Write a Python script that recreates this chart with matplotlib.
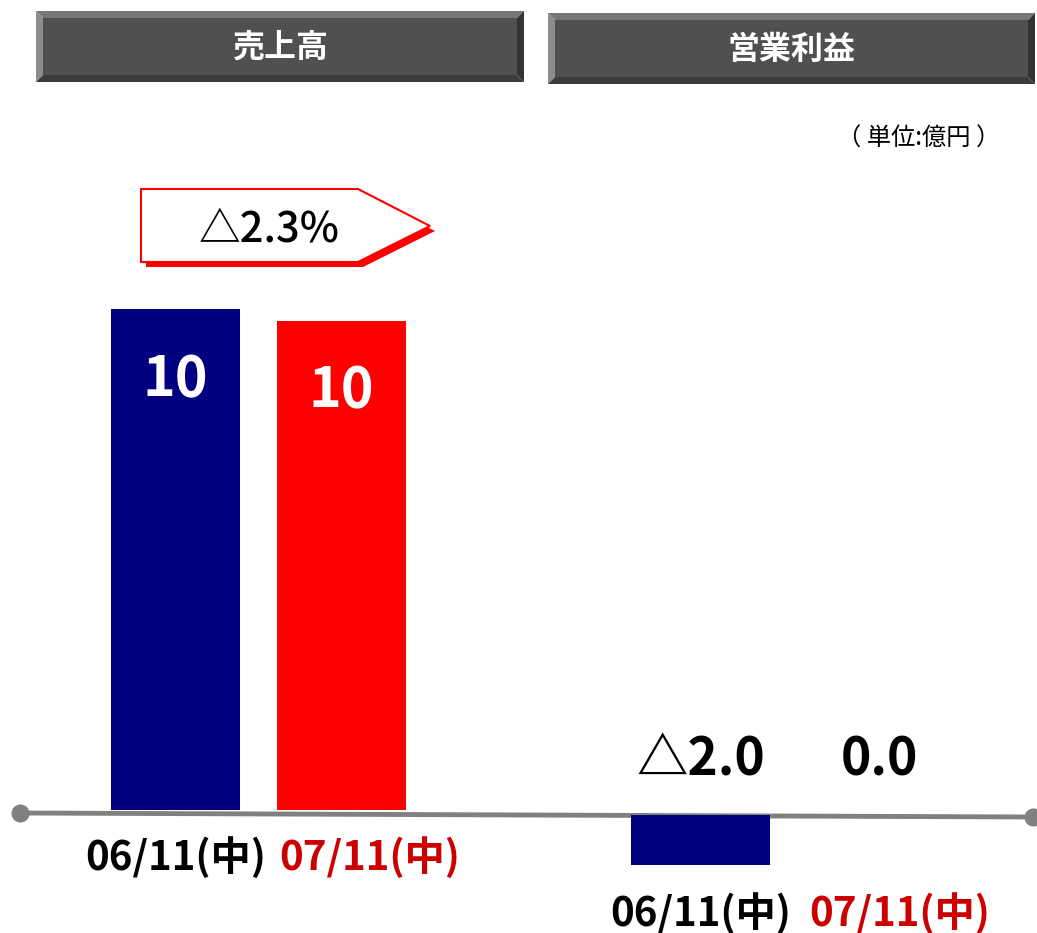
import matplotlib
matplotlib.use("Agg")
import matplotlib.pyplot as plt
from matplotlib.patches import Polygon, Rectangle

plt.rcParams['font.family'] = ['Noto Sans CJK JP', 'DejaVu Sans']

# data (億円)
periods = ["06/11(中)", "07/11(中)"]
sales = [10.24, 10.0]
sales_labels = ["10", "10"]
op_profit = [-2.0, 0.0]
op_labels = ["△2.0", "0.0"]
sales_change = "△2.3%"
titles = ["売上高", "営業利益"]
unit_text = "（ 単位:億円 ）"

NAVY = "#000080"
RED = "#ff0000"
DARK_RED = "#cc0000"
bar_colors = [NAVY, RED]
label_colors = ["black", DARK_RED]

W, H = 1037, 933
fig = plt.figure(figsize=(W / 100, H / 100), dpi=100)


def rect(x0, y0, x1, y1):
    # pixel box (image coords, y down) -> figure fraction
    return [x0 / W, 1 - y1 / H, (x1 - x0) / W, (y1 - y0) / H]


def header(x0, y0, x1, y1, text):
    ax = fig.add_axes(rect(x0, y0, x1, y1))
    ax.set_xlim(0, x1 - x0)
    ax.set_ylim(y1 - y0, 0)
    ax.axis("off")
    w, h, b = x1 - x0, y1 - y0, 7
    ax.add_patch(Polygon([(0, 0), (w, 0), (w - b, b), (b, b)], color="#777777", lw=0))
    ax.add_patch(Polygon([(0, 0), (b, b), (b, h - b), (0, h)], color="#8c8c8c", lw=0))
    ax.add_patch(Polygon([(w, 0), (w, h), (w - b, h - b), (w - b, b)], color="#333333", lw=0))
    ax.add_patch(Polygon([(0, h), (b, h - b), (w - b, h - b), (w, h)], color="#3c3c3c", lw=0))
    ax.add_patch(Rectangle((b, b), w - 2 * b, h - 2 * b, color="#505050", lw=0))
    ax.text(w / 2, h / 2 + 1, text, color="white", fontsize=23, fontweight="bold",
            ha="center", va="center")


header(36, 11, 524, 82, titles[0])
header(548, 13, 1035, 84, titles[1])

fig.text(1000 / W, 1 - 139 / H, unit_text, ha="right", va="center", fontsize=17.5)

# ---- left panel: sales ----
x = [0, 1]
px_unit = 166.0
y_unit = 501 / sales[0]
axL = fig.add_axes(rect(0, 290, 520, 900))
axL.set_xlim(-175.5 / px_unit, (520 - 175.5) / px_unit)
axL.set_ylim(-(900 - 810) / y_unit, (810 - 290) / y_unit)
axL.axis("off")
axL.bar(x, sales, width=0.78, color=bar_colors)
for i, v in enumerate(sales):
    axL.annotate(sales_labels[i], (x[i], v), xytext=(0, -51), textcoords="offset points",
                 ha="center", va="center", color="white", fontsize=40, fontweight="bold")
for i, p in enumerate(periods):
    axL.text(x[i] + 0.17 * i, -0.98, p, ha="center", va="center",
             color=label_colors[i], fontsize=29, fontweight="bold")

# change callout arrow
axC = fig.add_axes([0, 0, 1, 1])
axC.set_xlim(0, W)
axC.set_ylim(H, 0)
axC.axis("off")
shape = [(141, 189), (358, 189), (430, 226), (358, 262), (141, 262)]
axC.add_patch(Polygon([(a + 5, b + 5) for a, b in shape], color=RED, lw=0))
axC.add_patch(Polygon(shape, facecolor="white", edgecolor=RED, lw=1.5))
axC.text(269, 229, sales_change, ha="center", va="center", fontsize=30,
         fontweight="medium", color="black")

# ---- right panel: operating profit ----
px_unit_r = 190.0
y_unit_r = 25.0
axR = fig.add_axes(rect(540, 290, 1037, 940))
axR.set_xlim((540 - 700.5) / px_unit_r, (1037 - 700.5) / px_unit_r)
axR.set_ylim(-(940 - 815) / y_unit_r, (815 - 290) / y_unit_r)
axR.axis("off")
axR.bar(x, op_profit, width=0.73, color=bar_colors)
for i, lab in enumerate(op_labels):
    axR.text(x[i] - 0.06 * i, 2.2, lab, ha="center", va="center",
             color="black", fontsize=37, fontweight="bold")
for i, p in enumerate(periods):
    axR.text(x[i] + 0.05 * i, -3.95, p, ha="center", va="center",
             color=label_colors[i], fontsize=29, fontweight="bold")

# baseline across both panels
axC.plot([20, 1033], [813, 817], color="#808080", lw=3.5, solid_capstyle="butt", zorder=3)
axC.plot([20, 1033], [813, 817], "o", color="#808080", ms=12, zorder=4)

fig.savefig("out.png", dpi=100)
